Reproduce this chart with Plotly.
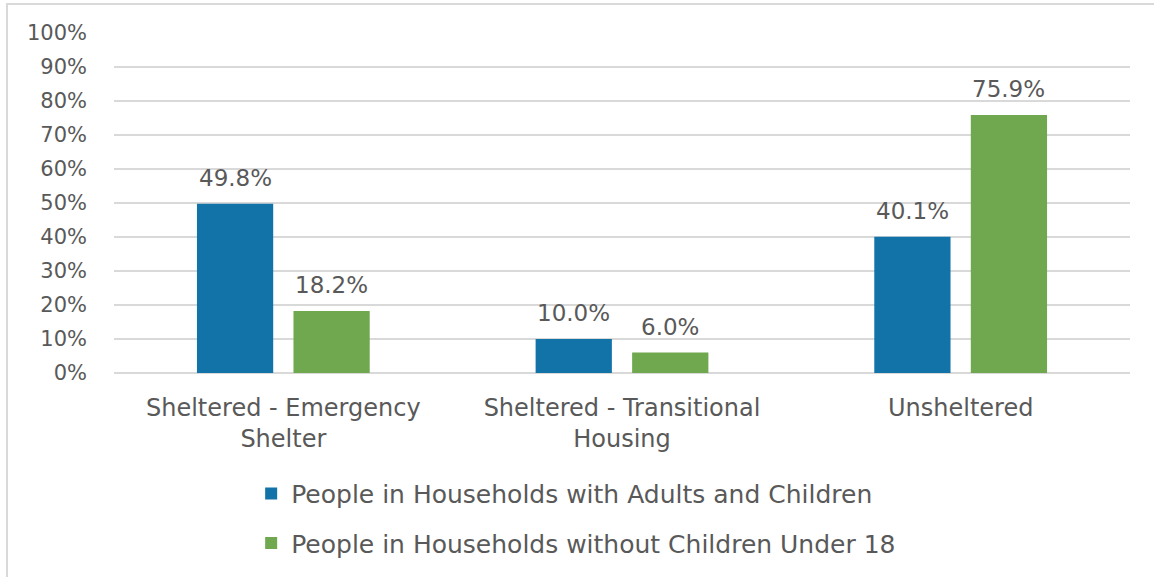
import plotly.graph_objects as go

categories = ["Sheltered - Emergency<br>Shelter", "Sheltered - Transitional<br>Housing", "Unsheltered"]
with_children = [49.8, 10.0, 40.1]
without_children = [18.2, 6.0, 75.9]
series_names = ["People in Households with Adults and Children",
                "People in Households without Children Under 18"]
y_ticks = list(range(0, 101, 10))
y_tick_labels = [f"{v}%" for v in y_ticks]

FONT = "DejaVu Sans"
TEXT = "#595959"
GRID = "#d9d9d9"
BAR_GAP = 0.43
GROUP_GAP = 0.21

series = [
    (series_names[0], with_children, "#1273a8", "a"),
    (series_names[1], without_children, "#70a84f", "b"),
]

fig = go.Figure()
for name, vals, color, grp in series:
    fig.add_trace(go.Bar(
        x=list(range(len(categories))), y=vals, name=name, legendgroup=grp,
        marker=dict(color=color, line=dict(width=0)),
        hovertemplate="%{y:.1f}%<extra>" + name + "</extra>",
    ))

# value labels above each bar, placed at the grouped bar centres
slot = (1 - BAR_GAP) / len(series)
annotations = []
for k, (_, vals, _, _) in enumerate(series):
    offset = (k - (len(series) - 1) / 2) * slot
    for i, v in enumerate(vals):
        annotations.append(dict(
            x=i + offset, y=v, xref="x", yref="y",
            text=f"{v:.1f}%", showarrow=False,
            yanchor="bottom", yshift=11,
            font=dict(family=FONT, size=23, color=TEXT),
        ))

fig.update_layout(
    width=1154, height=577,
    margin=dict(l=114, r=24, t=33, b=204, autoexpand=False),
    paper_bgcolor="white", plot_bgcolor="white",
    barmode="group", bargap=BAR_GAP, bargroupgap=GROUP_GAP,
    font=dict(family=FONT, color=TEXT),
    showlegend=True,
    legend=dict(
        orientation="v", x=0.135, xanchor="left",
        yref="container", y=0.184, yanchor="top",
        font=dict(family=FONT, size=25, color=TEXT),
        tracegroupgap=14, bgcolor="rgba(0,0,0,0)",
    ),
    xaxis=dict(
        automargin=False,
        tickvals=list(range(len(categories))), ticktext=categories,
        range=[-0.5, len(categories) - 0.5],
        showgrid=False, showline=False, ticks="", zeroline=False,
        tickfont=dict(family=FONT, size=24, color=TEXT),
        ticklabelstandoff=18,
    ),
    yaxis=dict(
        automargin=False,
        range=[0, 100], tickvals=y_ticks, ticktext=y_tick_labels,
        showgrid=True, gridcolor=GRID, gridwidth=1.5,
        zeroline=True, zerolinecolor=GRID, zerolinewidth=1.5,
        showline=False, ticks="",
        tickfont=dict(family=FONT, size=21, color=TEXT),
        ticklabelstandoff=26,
    ),
    annotations=annotations,
    shapes=[dict(
        type="rect", xref="paper", yref="paper",
        x0=-0.1053, x1=1.2, y0=-1.0, y1=1.0853,
        line=dict(color=GRID, width=2), layer="below",
    )],
)

fig.write_html("out.html")
